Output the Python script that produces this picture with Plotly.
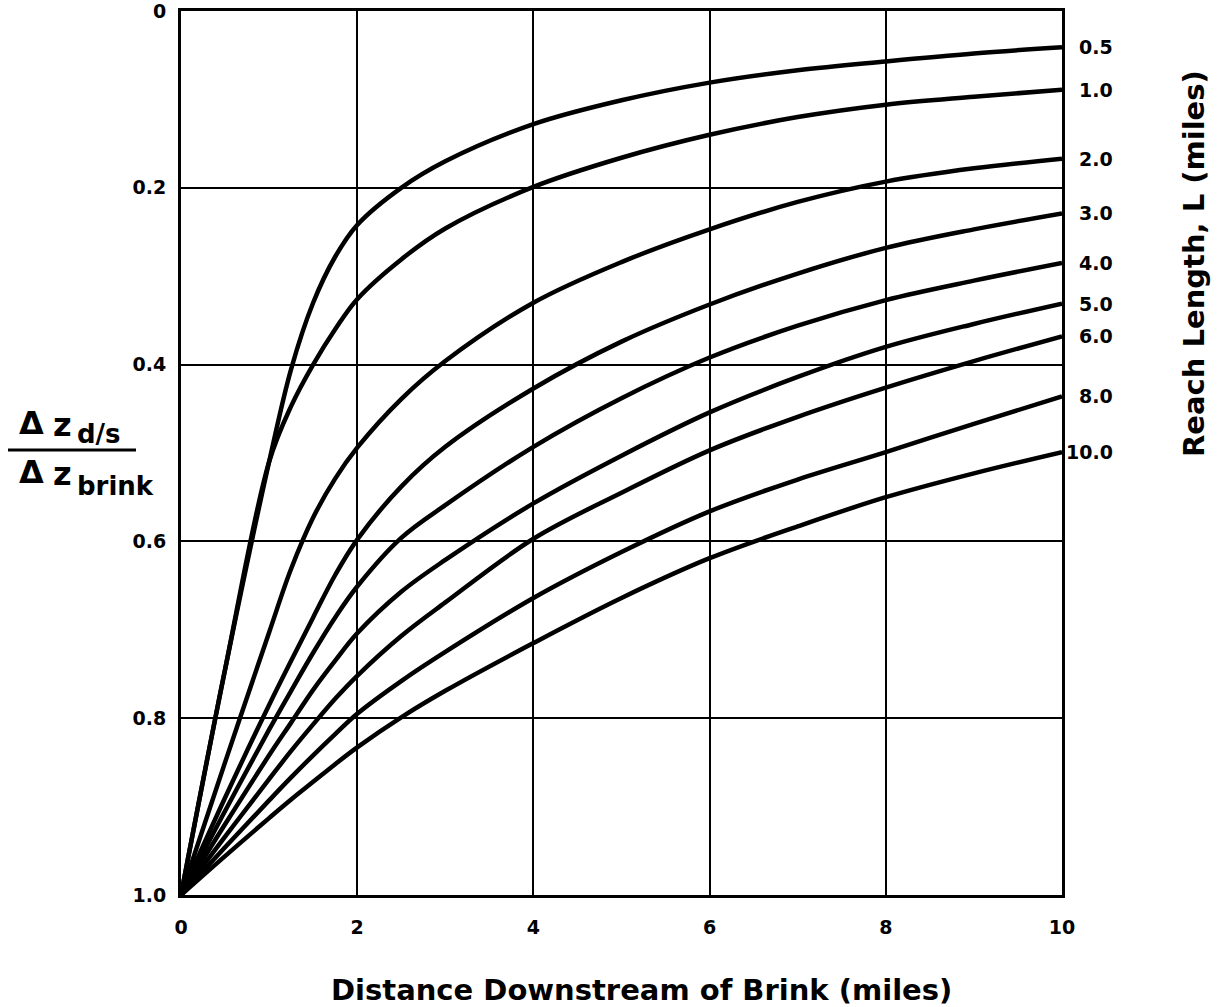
import plotly.graph_objects as go

# Distance downstream of the brink (miles)
distance = [0, 0.5, 1, 1.25, 1.5, 1.75, 2, 2.5, 3, 4, 5, 6, 7, 8, 9, 10]

# Reach length L (miles) of each curve, as printed at the right edge
reach_labels = ["0.5", "1.0", "2.0", "3.0", "4.0", "5.0", "6.0", "8.0", "10.0"]

# Δz_d/s / Δz_brink for each reach length, sampled at `distance`
ratio_L0_5 = [1.0, 0.745, 0.51, 0.405, 0.330, 0.278, 0.242, 0.200, 0.170, 0.128, 0.101, 0.081, 0.067, 0.057, 0.048, 0.041]
ratio_L1 = [1.0, 0.745, 0.51, 0.447, 0.400, 0.360, 0.326, 0.281, 0.246, 0.199, 0.166, 0.140, 0.120, 0.106, 0.097, 0.089]
ratio_L2 = [1.0, 0.850, 0.703, 0.631, 0.573, 0.529, 0.494, 0.439, 0.396, 0.330, 0.284, 0.247, 0.216, 0.193, 0.178, 0.167]
ratio_L3 = [1.0, 0.890, 0.785, 0.735, 0.686, 0.638, 0.598, 0.538, 0.493, 0.427, 0.374, 0.332, 0.297, 0.268, 0.247, 0.229]
ratio_L4 = [1.0, 0.905, 0.813, 0.769, 0.726, 0.686, 0.651, 0.596, 0.559, 0.493, 0.438, 0.392, 0.356, 0.327, 0.305, 0.285]
ratio_L5 = [1.0, 0.920, 0.842, 0.805, 0.768, 0.735, 0.704, 0.657, 0.621, 0.557, 0.503, 0.454, 0.414, 0.380, 0.354, 0.331]
ratio_L6 = [1.0, 0.934, 0.869, 0.837, 0.807, 0.778, 0.752, 0.707, 0.669, 0.597, 0.545, 0.497, 0.459, 0.426, 0.396, 0.368]
ratio_L8 = [1.0, 0.946, 0.893, 0.867, 0.842, 0.818, 0.795, 0.758, 0.725, 0.664, 0.612, 0.566, 0.530, 0.499, 0.467, 0.436]
ratio_L10 = [1.0, 0.956, 0.913, 0.892, 0.872, 0.852, 0.833, 0.799, 0.769, 0.715, 0.664, 0.619, 0.583, 0.550, 0.523, 0.499]

curves = [ratio_L0_5, ratio_L1, ratio_L2, ratio_L3, ratio_L4,
          ratio_L5, ratio_L6, ratio_L8, ratio_L10]

# Axis ticks
x_ticks = [0, 2, 4, 6, 8, 10]
x_tick_text = ["0", "2", "4", "6", "8", "10"]
y_ticks = [0, 0.2, 0.4, 0.6, 0.8, 1.0]
y_tick_text = ["0", "0.2", "0.4", "0.6", "0.8", "1.0"]

FONT = "DejaVu Sans"
W, H = 1221, 1007
ML, MR, MT, MB = 181, 159, 11, 112
PW, PH = W - ML - MR, H - MT - MB


def px(xp):
    """Pixel column -> paper x."""
    return (xp - ML) / PW


def py(yp):
    """Pixel row -> paper y."""
    return 1 - (yp - MT) / PH


fig = go.Figure()

for label, values in zip(reach_labels, curves):
    fig.add_trace(go.Scatter(
        x=distance, y=values, mode="lines", name=label,
        line=dict(color="black", width=4.5, shape="spline", smoothing=1.0),
        showlegend=False, hoverinfo="skip",
    ))
    # Reach-length label at the curve's right end
    fig.add_annotation(
        x=10, y=values[-1], xref="x", yref="y", text=label,
        showarrow=False, xanchor="right", yanchor="middle", xshift=53,
        font=dict(family=FONT, size=19, color="black", weight="bold"),
    )

axis_common = dict(
    showline=True, linecolor="black", linewidth=3, mirror=True,
    showgrid=True, gridcolor="black", gridwidth=2,
    zeroline=False, ticks="", automargin=False,
    ticklabeloverflow="allow",
    tickfont=dict(family=FONT, size=19, color="black", weight="bold"),
)

fig.update_xaxes(range=[0, 10], tickvals=x_ticks, ticktext=x_tick_text,
                 ticklabelstandoff=13, **axis_common)
fig.update_yaxes(range=[1.0, 0], tickvals=y_ticks, ticktext=y_tick_text,
                 ticklabelstandoff=8, **axis_common)

# Axis titles
fig.add_annotation(
    x=px(641), y=py(990), xref="paper", yref="paper",
    text="Distance Downstream of Brink (miles)", showarrow=False,
    xanchor="center", yanchor="middle",
    font=dict(family=FONT, size=29, color="black", weight="bold"),
)
fig.add_annotation(
    x=px(1194), y=py(264), xref="paper", yref="paper",
    text="Reach Length, L (miles)", showarrow=False, textangle=-90,
    xanchor="center", yanchor="middle",
    font=dict(family=FONT, size=29, color="black", weight="bold"),
)

# Left-hand ratio title drawn as a stacked fraction
big = dict(family=FONT, size=32, color="black", weight="bold")
small = dict(family=FONT, size=26, color="black", weight="bold")
for yc, sub, sub_y in [(423, "d/s", 434), (472, "brink", 486)]:
    fig.add_annotation(x=px(31), y=py(yc), xref="paper", yref="paper",
                       text="Δ", showarrow=False, xanchor="center",
                       yanchor="middle", font=big)
    fig.add_annotation(x=px(62), y=py(yc + 2), xref="paper", yref="paper",
                       text="z", showarrow=False, xanchor="center",
                       yanchor="middle", font=big)
    fig.add_annotation(x=px(75), y=py(sub_y), xref="paper", yref="paper",
                       text=sub, showarrow=False, xanchor="left",
                       yanchor="middle", font=small)
fig.add_shape(type="line", xref="paper", yref="paper",
              x0=px(8), x1=px(136), y0=py(450), y1=py(450),
              line=dict(color="black", width=3))

fig.update_layout(
    width=W, height=H,
    margin=dict(l=ML, r=MR, t=MT, b=MB),
    paper_bgcolor="white", plot_bgcolor="white",
    showlegend=False,
)

fig.write_html("out.html")
